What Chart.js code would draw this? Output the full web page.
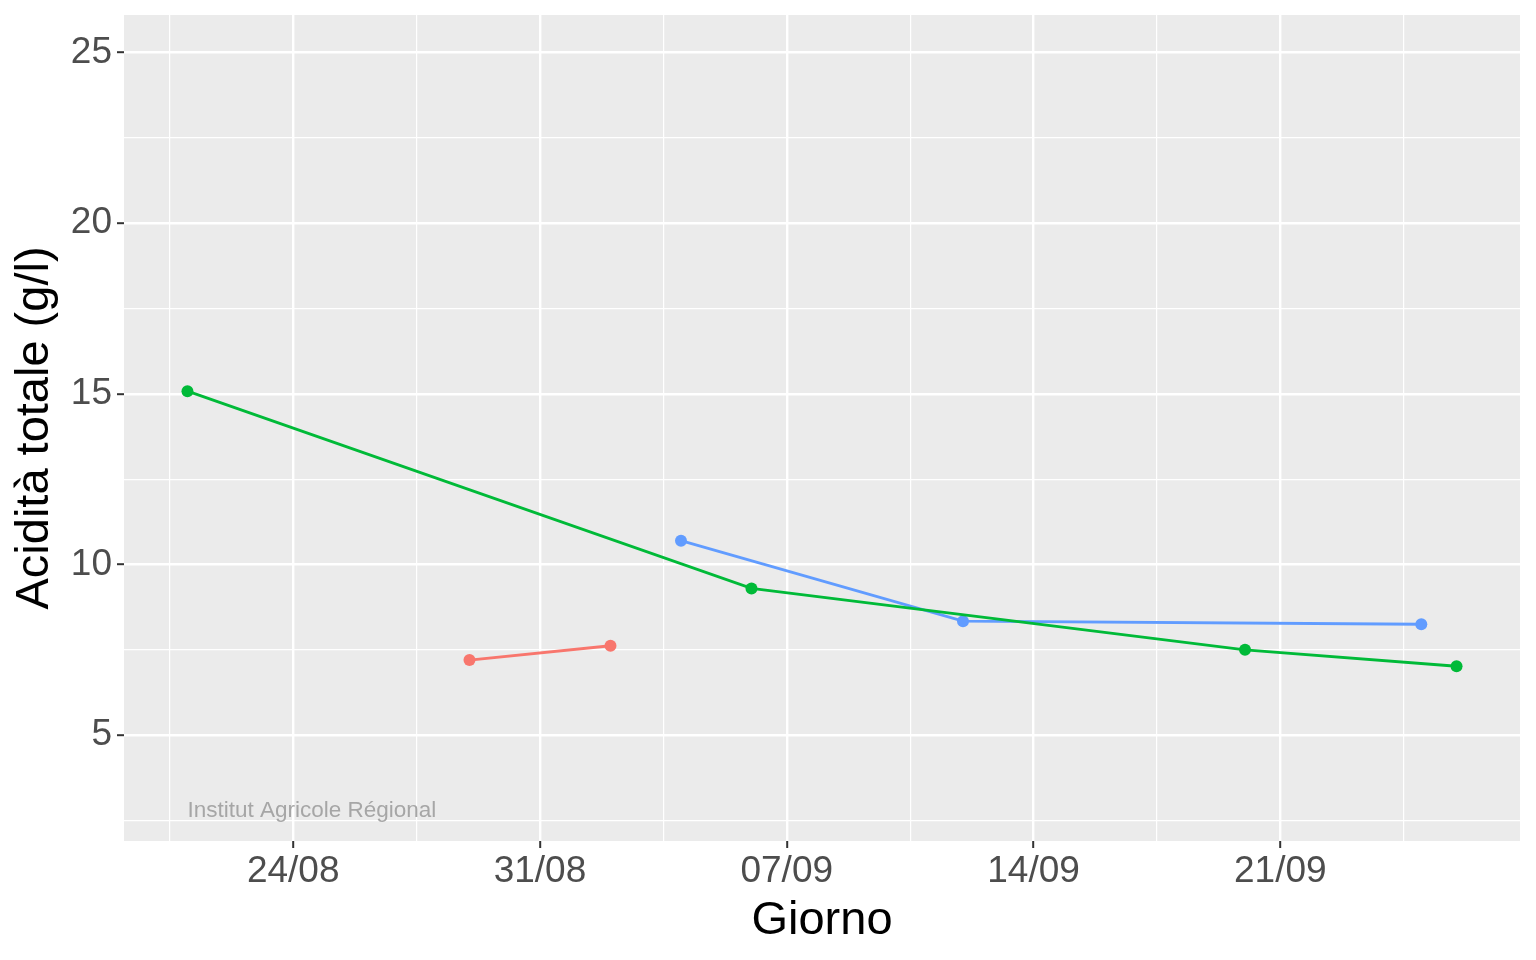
<!DOCTYPE html>
<html>
<head>
<meta charset="utf-8">
<script src="https://cdn.jsdelivr.net/npm/chart.js@4"></script>
<style>
  html, body { margin: 0; padding: 0; background: #fff; }
  #wrap { width: 1536px; height: 960px; }
</style>
</head>
<body>
<div id="wrap"><canvas id="acidChart"></canvas></div>
<script>
// sampling dates and values, one pair of arrays per series
const redDates = ['2021-08-29', '2021-09-02'];
const redValues = [7.2, 7.62];
const greenDates = ['2021-08-21', '2021-09-06', '2021-09-20', '2021-09-26'];
const greenValues = [15.08, 9.3, 7.5, 7.02];
const blueDates = ['2021-09-04', '2021-09-12', '2021-09-25'];
const blueValues = [10.7, 8.34, 8.25];

const xTickDates = ['2021-08-24', '2021-08-31', '2021-09-07', '2021-09-14', '2021-09-21'];
const yTicks = [5, 10, 15, 20, 25];
const yLimits = [3, 25];
const watermark = 'Institut Agricole Régional';

const FONT = "'Liberation Sans', Arial, Helvetica, sans-serif";
const DAY = 86400000;
const origin = Date.parse('2021-08-24');
const toDay = s => (Date.parse(s) - origin) / DAY;

const toPoints = (dates, values) => dates.map((d, i) => ({ x: toDay(d), y: values[i] }));

// ggplot-like expansion of 5% on both axes
const allDays = [...redDates, ...greenDates, ...blueDates].map(toDay);
const xLo = Math.min(...allDays), xHi = Math.max(...allDays);
const xPad = (xHi - xLo) * 0.05;
const yPad = (yLimits[1] - yLimits[0]) * 0.05;

const xMajor = xTickDates.map(toDay);
const xMinor = [];
for (let i = 0; i <= xMajor.length; i++) {
    const a = i === 0 ? xMajor[0] - 7 : xMajor[i - 1];
    const b = i === xMajor.length ? xMajor[i - 1] + 7 : xMajor[i];
    const m = (a + b) / 2;
    if (m > xLo - xPad && m < xHi + xPad) xMinor.push(m);
}
const yMinor = [];
for (let i = 0; i <= yTicks.length; i++) {
    const a = i === 0 ? yTicks[0] - 5 : yTicks[i - 1];
    const b = i === yTicks.length ? yTicks[i - 1] + 5 : yTicks[i];
    const m = (a + b) / 2;
    if (m > yLimits[0] - yPad && m < yLimits[1] + yPad) yMinor.push(m);
}

const fmtDay = v => {
    const d = new Date(origin + v * DAY);
    const dd = String(d.getUTCDate()).padStart(2, '0');
    const mm = String(d.getUTCMonth() + 1).padStart(2, '0');
    return dd + '/' + mm;
};

const panel = {
    id: 'panel',
    beforeDraw(chart) {
        const { ctx, chartArea: a } = chart;
        ctx.save();
        ctx.fillStyle = '#EBEBEB';
        ctx.fillRect(a.left, a.top, a.right - a.left, a.bottom - a.top);
        ctx.restore();
    },
    afterDatasetsDraw(chart) {
        const { ctx, scales } = chart;
        ctx.save();
        ctx.font = '22.5px ' + FONT;
        ctx.fillStyle = '#A6A6A6';
        ctx.textAlign = 'left';
        ctx.textBaseline = 'alphabetic';
        ctx.fillText(watermark, scales.x.getPixelForValue(xLo), scales.y.getPixelForValue(2.6));
        ctx.restore();
    }
};

const series = [
    { data: toPoints(redDates, redValues), color: '#F8766D' },
    { data: toPoints(greenDates, greenValues), color: '#00BA38' },
    { data: toPoints(blueDates, blueValues), color: '#619CFF' }
];

const isMajorX = v => xMajor.some(m => Math.abs(m - v) < 1e-6);
const isMajorY = v => yTicks.some(m => Math.abs(m - v) < 1e-6);

const ctx = document.getElementById('acidChart');
const acidChart = new Chart(ctx, {
    type: 'line',
    data: {
        datasets: series.map(s => ({
            data: s.data,
            borderColor: s.color,
            backgroundColor: s.color,
            borderWidth: 2.8,
            pointRadius: 6,
            pointBorderWidth: 0,
            pointHoverRadius: 6,
            tension: 0,
            fill: false
        }))
    },
    options: {
        responsive: true,
        maintainAspectRatio: false,
        animation: false,
        layout: { padding: { top: 15, right: 16, bottom: 0, left: 0 } },
        plugins: { legend: { display: false }, tooltip: { enabled: false } },
        scales: {
            x: {
                type: 'linear',
                min: xLo - xPad,
                max: xHi + xPad,
                afterBuildTicks: axis => {
                    axis.ticks = [...xMinor, ...xMajor].sort((a, b) => a - b).map(v => ({ value: v }));
                },
                afterFit: axis => {
                    axis.height = 119;
                    axis.paddingLeft = 0;
                    axis.paddingRight = 0;
                },
                border: { display: false },
                grid: {
                    color: '#FFFFFF',
                    lineWidth: c => isMajorX(c.tick.value) ? 2.4 : 1.2,
                    tickColor: c => isMajorX(c.tick.value) ? '#333333' : 'rgba(0,0,0,0)',
                    tickLength: 7,
                    tickWidth: 2
                },
                ticks: {
                    autoSkip: false,
                    maxRotation: 0,
                    padding: 2,
                    color: '#4D4D4D',
                    font: { family: FONT, size: 37 },
                    callback: v => isMajorX(v) ? fmtDay(v) : ''
                },
                title: {
                    display: true,
                    text: 'Giorno',
                    color: '#000000',
                    font: { family: FONT, size: 47 },
                    padding: { top: 0, bottom: 11 }
                }
            },
            y: {
                min: yLimits[0] - yPad,
                max: yLimits[1] + yPad,
                afterBuildTicks: axis => {
                    axis.ticks = [...yMinor, ...yTicks].sort((a, b) => a - b).map(v => ({ value: v }));
                },
                afterFit: axis => {
                    axis.width = 124;
                    axis.paddingTop = 0;
                    axis.paddingBottom = 0;
                },
                border: { display: false },
                grid: {
                    color: '#FFFFFF',
                    lineWidth: c => isMajorY(c.tick.value) ? 2.4 : 1.2,
                    tickColor: c => isMajorY(c.tick.value) ? '#333333' : 'rgba(0,0,0,0)',
                    tickLength: 7,
                    tickWidth: 2
                },
                ticks: {
                    autoSkip: false,
                    padding: 5,
                    color: '#4D4D4D',
                    font: { family: FONT, size: 37 },
                    callback: v => isMajorY(v) ? String(v) : ''
                },
                title: {
                    display: true,
                    text: 'Acidità totale (g/l)',
                    color: '#000000',
                    font: { family: FONT, size: 47 },
                    padding: { top: 7, bottom: 0 }
                }
            }
        }
    },
    plugins: [panel]
});
</script>
</body>
</html>
